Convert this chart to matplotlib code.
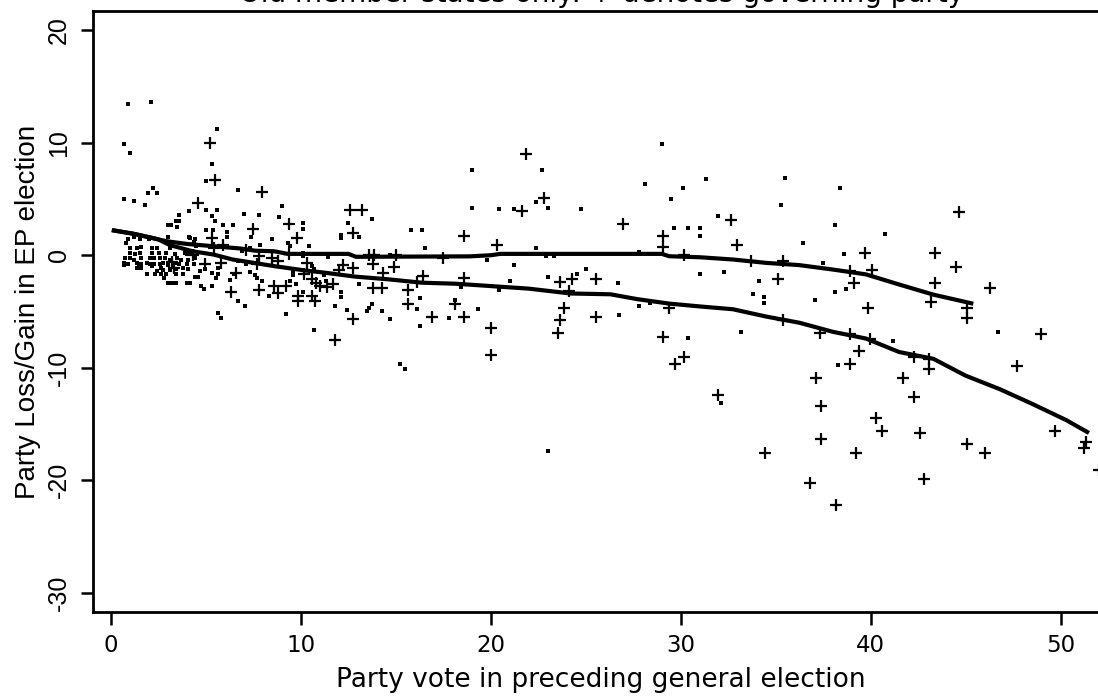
import matplotlib
matplotlib.use("Agg")
import matplotlib.pyplot as plt

# ---------------------------------------------------------------------------
# Data (party vote vs. loss/gain in EP election)
# ---------------------------------------------------------------------------

# non-governing parties (small dots)
dot_x = [
    0.9, 2.1, 0.7, 1.0, 5.6, 5.3, 5.0, 6.7, 2.2, 1.95, 2.4, 0.7, 1.2, 1.8,
    4.1, 3.6, 5.0, 5.6, 5.3, 3.4, 3.6, 3.0, 3.15, 3.45, 5.5, 5.9, 6.4, 5.0, 5.35,
    6.1, 6.1, 7.35, 4.1, 4.4, 3.0, 7.0, 7.8, 4.15, 4.35, 4.5, 4.0, 6.9, 7.3, 7.85,
    6.7, 7.1, 5.65, 5.65, 4.7, 4.95, 5.3, 7.3, 7.6, 6.45, 6.25, 6.7, 7.05, 5.65, 5.8,
    0.9, 1.2, 1.5, 2.0, 0.8, 1.0, 1.35, 1.6, 2.15, 2.4, 3.1,
    1.0, 1.25, 1.55, 2.15, 2.5, 2.9, 3.35, 3.9, 4.15,
    0.75, 1.0, 1.2, 1.6, 2.05, 2.25, 2.6, 2.85, 3.1, 3.45, 3.7, 4.05, 4.4,
    0.7, 0.7, 0.9, 1.35, 1.45, 1.6, 1.9, 2.05, 2.25, 2.6, 2.75, 3.0, 3.4, 3.6, 4.0, 4.35,
    1.35, 1.6, 2.15, 2.4, 2.65, 2.75, 3.1, 3.4, 3.8, 4.05,
    1.9, 2.3, 2.65, 2.9, 3.4, 3.8, 2.8, 4.4, 4.6,
    3.0, 3.2, 3.4, 4.0, 4.15, 4.75, 4.9, 5.3, 5.55,
    9.0, 8.85, 10.1, 10.1, 8.5, 9.3, 9.4, 10.4, 10.1, 10.1, 10.6, 10.7, 11.4,
    9.6, 9.6, 9.4, 11.2, 11.3, 7.7, 7.95, 9.75, 10.1, 8.3, 9.2, 10.7, 11.8,
    12.1, 12.1, 12.4, 13.05, 12.5, 12.1, 12.1, 13.05, 13.75, 13.5, 13.6, 13.75, 14.25,
    14.7, 14.7, 15.8, 16.4, 16.55, 16.25, 16.1, 16.25, 17.8, 18.1, 15.2, 15.5, 19.0, 19.0, 18.45, 19.3, 20.45,
    22.7, 22.4, 23.0, 20.45, 21.2, 24.75, 29.0, 28.1, 30.1, 29.5, 31.35, 31.95, 29.65, 30.4, 31.0, 31.0,
    22.4, 22.9, 23.35, 19.8, 27.8, 21.2, 21.0, 23.0, 24.55, 25.0, 26.7, 27.8, 28.4, 26.75,
    31.0, 32.3, 34.1, 33.8, 34.4, 34.4, 33.2, 30.4, 23.0, 32.1,
    35.5, 38.4, 35.3, 38.1, 40.75, 36.45, 38.6, 37.5, 37.05, 38.1, 38.7, 41.2, 38.3, 46.7,
]
dot_y = [
    13.4, 13.6, 9.9, 9.1, 11.2, 8.1, 6.6, 5.8, 6.0, 5.55, 5.55, 5.0, 4.8, 4.5,
    3.9, 3.6, 4.0, 4.0, 3.5, 3.0, 3.0, 2.7, 2.7, 2.5, 3.0, 2.7, 2.7, 2.2, 2.2,
    2.1, 1.6, 1.6, 1.6, 1.4, 1.6, 3.7, 3.6, 1.5, 1.2, 0.8, 0.15, 0.35, 0.65, 0.95,
    -0.5, -0.8, -1.1, -1.7, -1.4, -1.2, -1.6, -1.5, -1.8, -1.7, -2.2, -4.05, -4.5, -5.1, -5.6,
    1.45, 1.6, 1.4, 1.4, 1.1, 0.65, 0.6, 0.7, 0.65, 0.65, 0.65,
    0.2, 0.1, 0.2, 0.2, 0.2, 0.2, 0.1, 0.2, 0.2,
    -0.25, -0.25, -0.4, -0.25, -0.25, -0.25, -0.25, -0.25, -0.4, -0.25, -0.4, -0.4, -0.25,
    -0.7, -0.9, -0.8, -0.7, -0.9, -0.8, -0.7, -0.8, -0.8, -0.8, -0.7, -0.9, -0.7, -0.8, -0.8, -0.8,
    -1.1, -1.1, -1.0, -1.4, -1.1, -1.35, -1.35, -1.25, -1.1, -1.25,
    -1.7, -1.7, -1.7, -1.65, -1.7, -1.7, -2.0, -1.95, -1.95,
    -2.5, -2.5, -2.5, -2.5, -2.5, -2.75, -3.0, -2.75, -2.0,
    4.4, 3.4, 2.9, 2.3, 1.4, 1.1, 0.8, 0.8, 0.2, -0.1, -0.95, -1.25, -0.2,
    -1.5, -1.75, -2.3, -1.8, -2.3, -2.0, -2.3, -2.6, -3.3, -3.6, -5.2, -6.6, -4.5,
    -3.3, -3.7, -4.9, -2.6, 2.9, 1.8, 1.5, 1.6, 3.2, -4.95, -4.65, -4.35, -4.95,
    -5.7, 0.05, 2.2, 2.2, 0.6, -3.8, -4.8, -6.3, -5.6, -4.0, -9.7, -10.1, 7.55, 4.2, -2.8, -4.8, -3.1,
    7.55, 4.75, 4.2, 4.1, 4.1, 4.1, 9.9, 6.3, 6.0, 5.0, 6.8, 3.5, 2.4, 2.4, 2.4, 1.7,
    0.6, -0.1, -0.1, -0.4, 0.3, -0.9, -2.25, -1.95, -1.7, -1.2, -2.5, -4.55, -4.25, -5.3,
    -1.7, -1.45, -2.25, -3.45, -3.75, -4.25, -6.8, -7.35, -17.4, -13.1,
    6.85, 6.0, 4.45, 2.7, 1.9, 1.1, 0.1, -0.7, -4.0, -3.3, -3.0, -7.6, -9.75, -6.8,
]

# governing parties (plus markers)
gov_x = [
    3.2, 3.3, 4.3, 4.6, 4.95, 5.2, 5.3, 5.5, 5.4, 5.9, 5.8, 6.6, 6.3, 7.1, 7.5,
    7.7, 7.8, 7.8, 7.95, 8.45, 8.8, 8.6, 9.2, 8.8, 9.35, 9.35, 9.8, 9.85, 9.85, 10.3,
    10.15, 10.6, 10.8, 11.0, 11.35, 11.7, 10.6, 10.75, 12.0, 12.2, 12.75, 12.6, 13.2, 12.75,
    13.6, 13.85, 13.8, 14.3, 13.8, 14.25, 12.75, 11.8, 15.0, 14.9, 15.65, 15.65, 16.45, 16.1, 16.9,
    17.5, 18.6, 18.6, 18.1, 18.6, 20.0, 20.0, 20.3, 21.85, 22.8, 21.65, 26.95, 29.05, 29.05, 30.15,
    32.65, 32.95, 33.7, 23.65, 24.3, 24.1, 25.55, 23.85, 23.65, 23.55, 25.55, 29.4, 29.05, 29.7, 30.15, 31.95,
    44.65, 39.7, 43.4, 35.4, 44.5, 38.9, 40.05, 35.1, 39.1, 43.4, 46.3, 43.2, 45.1, 45.1, 39.85,
    35.4, 37.35, 38.9, 39.95, 39.4, 38.9, 42.3, 43.05, 43.05, 48.95, 47.7, 37.1, 41.7, 42.3, 37.4,
    37.4, 34.45, 39.25, 36.8, 38.2, 40.3, 40.6, 42.6, 42.8, 45.1, 46.0, 49.7, 51.35, 51.25, 52.0,
]
gov_y = [
    -0.6, -1.15, 0.05, 4.6, -0.8, 10.0, 1.5, 6.7, 0.65, 0.9, -0.7, -1.55, -3.3, 0.5, 2.3,
    -0.8, -0.1, -3.1, 5.65, -0.25, -0.5, -2.7, -2.7, -3.4, 2.8, 0.1, 1.5, -3.6, -4.1, -0.7,
    -1.7, -2.1, -2.45, -2.75, -2.85, -2.6, -3.6, -4.1, -1.3, -0.9, -1.1, 4.0, 4.0, 2.0,
    0.05, 0.05, -0.8, -1.55, -2.9, -2.9, -5.7, -7.5, 0.0, -1.05, -3.1, -4.35, -1.85, -2.35, -5.5,
    -0.25, 1.75, -2.05, -4.35, -5.5, -6.5, -8.85, 0.95, 9.0, 5.05, 3.9, 2.8, 1.75, 0.7, 0.0,
    3.1, 0.95, -0.5, -2.4, -2.1, -3.2, -2.15, -4.7, -5.75, -6.95, -5.45, -4.7, -7.3, -9.65, -9.05, -12.4,
    3.8, 0.2, 0.2, -0.5, -1.05, -1.4, -1.35, -2.15, -2.45, -2.45, -2.9, -4.2, -4.7, -5.55, -4.7,
    -5.75, -6.95, -7.0, -7.45, -8.55, -9.65, -9.05, -9.2, -10.1, -7.0, -9.85, -10.9, -10.9, -12.6, -13.4,
    -16.3, -17.6, -17.6, -20.2, -22.2, -14.5, -15.6, -15.8, -19.9, -16.8, -17.6, -15.6, -16.6, -17.1, -19.1,
]

# lowess fits, one per group
nongov_fit_x = [0.15, 1.2, 2.0, 2.9, 4.0, 5.4, 6.8, 7.6, 8.6, 9.3, 12.5, 12.9, 18.9,
                20.0, 20.5, 29.0, 29.4, 31.0, 32.75, 34.5, 36.25, 38.0, 39.75, 41.5, 43.3, 45.3]
nongov_fit_y = [2.2, 1.9, 1.6, 1.25, 1.0, 0.8, 0.6, 0.4, 0.35, 0.12, 0.12, -0.14, -0.1,
                0.0, 0.12, 0.12, -0.09, -0.18, -0.38, -0.68, -0.88, -1.27, -1.7, -2.6, -3.5, -4.27]
gov_fit_x = [0.15, 1.2, 2.0, 2.5, 3.1, 4.3, 5.4, 6.4, 7.6, 8.6, 10.2, 11.3, 12.85, 14.6,
             16.35, 18.1, 19.2, 22.0, 24.2, 26.3, 27.7, 29.4, 31.0, 32.75, 34.5, 36.25,
             38.0, 39.75, 41.5, 43.3, 45.0, 46.8, 48.5, 50.3, 51.4]
gov_fit_y = [2.2, 1.9, 1.6, 1.4, 0.9, 0.35, 0.06, -0.38, -0.7, -0.97, -1.35, -1.56, -1.9, -2.14,
             -2.44, -2.53, -2.65, -2.97, -3.4, -3.47, -3.9, -4.3, -4.55, -4.8, -5.45, -6.0,
             -6.8, -7.4, -8.6, -9.2, -10.7, -11.9, -13.2, -14.65, -15.7]

x_ticks = [0, 10, 20, 30, 40, 50]
y_ticks = [-30, -20, -10, 0, 10, 20]

TITLE = "Old member states only: + denotes governing party"
XLABEL = "Party vote in preceding general election"
YLABEL = "Party Loss/Gain in EP election"

# ---------------------------------------------------------------------------
# Figure
# ---------------------------------------------------------------------------

# the original is a wide-stretched Stata graph: a wide face for horizontal
# text, Helvetica-like face for the rotated text
WIDE = "DejaVu Sans"
PLAIN = "Liberation Sans"

plt.rcParams.update({
    "font.family": [PLAIN, "DejaVu Sans"],
    "font.size": 17,
    "axes.unicode_minus": False,
})

W, H = 1098, 696
fig = plt.figure(figsize=(W / 100, H / 100), dpi=100)
fig.patch.set_facecolor("white")

# axes box in pixels: left 93, right beyond the image edge, top 11, bottom 612
ax = fig.add_axes([93 / W, 1 - 612 / H, (1108 - 93) / W, (612 - 11) / H])

ax.plot(dot_x, dot_y, ls="none", marker="s", ms=2.5, mew=0, color="black")
ax.plot(gov_x, gov_y, ls="none", marker="+", ms=9, mew=1.6, color="black")
ax.plot(nongov_fit_x, nongov_fit_y, color="black", lw=3.0, solid_joinstyle="round")
ax.plot(gov_fit_x, gov_fit_y, color="black", lw=3.0, solid_joinstyle="round")

ax.set_xlim(-0.95, 52.5)
ax.set_ylim(-31.7, 21.7)
ax.set_xticks(x_ticks, labels=[str(v) for v in x_ticks], fontsize=16.5, family=WIDE)
ax.set_yticks(y_ticks, labels=[str(v) for v in y_ticks], fontsize=18, family=PLAIN,
              rotation=90, va="center")

for side in ("left", "bottom", "top"):
    ax.spines[side].set_linewidth(2.0)
ax.spines["right"].set_visible(False)

ax.tick_params(axis="both", direction="out", length=9, width=1.8, pad=7)

ax.set_xlabel(XLABEL, fontsize=19, family=WIDE)
ax.xaxis.set_label_coords(0.5, (612 - 680) / (612 - 11))
ax.xaxis.label.set_va("center")

fig.text(28 / W, 1 - 312 / H, YLABEL, rotation=90, ha="center", va="center",
         fontsize=20, family=PLAIN)
fig.text(602 / W, 1 - 2 / H, TITLE, ha="center", va="baseline", fontsize=20, family=WIDE)

fig.savefig("out.png", dpi=100, facecolor="white")
plt.close(fig)
